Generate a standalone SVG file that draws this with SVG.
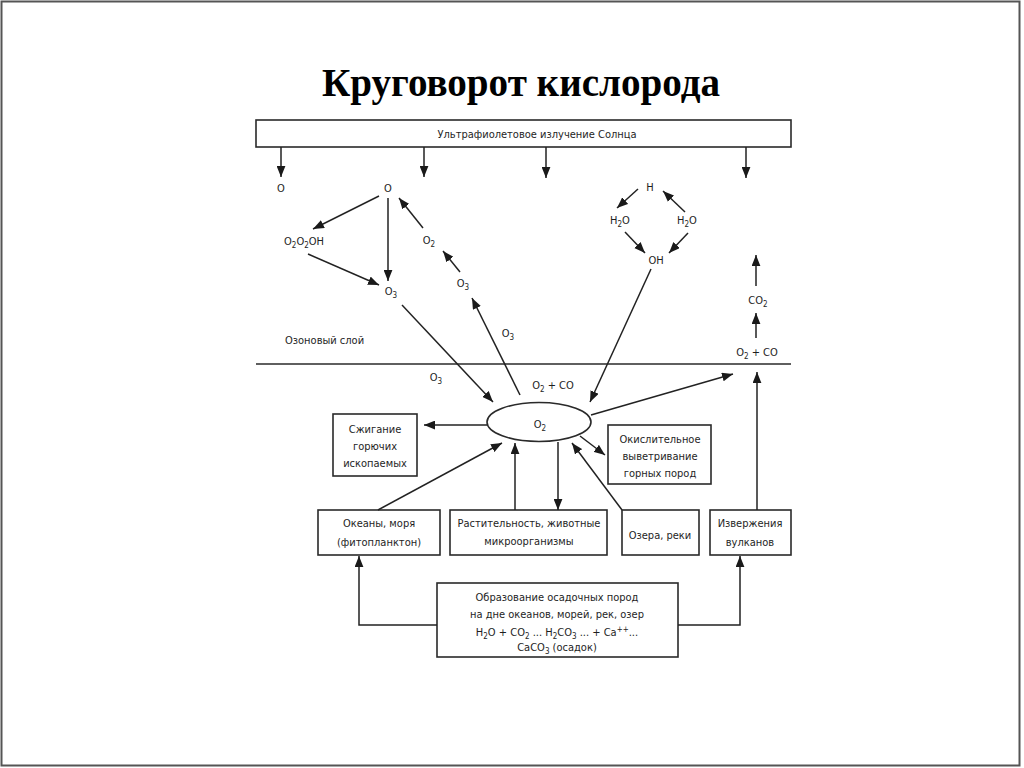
<svg xmlns="http://www.w3.org/2000/svg" width="1024" height="768" viewBox="0 0 1024 768">
<style>
.t{font-family:"Liberation Sans Narrow","DejaVu Sans Condensed","Liberation Sans",sans-serif;font-size:11px;fill:#1e1e1e;text-anchor:middle}
.l{text-anchor:start}
.box{fill:#fff;stroke:#2a2a2a;stroke-width:1.6}
.c{fill:none;stroke:#222;stroke-width:1.5}
.ar{marker-end:url(#ah)}
.s{font-size:8px}
</style>
<defs>
<marker id="ah" viewBox="0 0 10 8" refX="10" refY="4" markerWidth="11" markerHeight="9" markerUnits="userSpaceOnUse" orient="auto">
<path d="M0,0 L10,4 L0,8 z" fill="#1a1a1a"/>
</marker>
</defs>
<rect x="0" y="0" width="1024" height="768" fill="#fff"/>
<rect x="1.5" y="1.5" width="1018" height="764" fill="none" stroke="#555" stroke-width="2"/>
<text x="521" y="96" font-family="'Liberation Serif','Times New Roman',serif" font-weight="bold" font-size="40" text-anchor="middle" textLength="398" lengthAdjust="spacingAndGlyphs" fill="#000">Круговорот кислорода</text>

<g id="uv">
<rect class="box" x="256" y="120" width="535" height="27"/>
<text class="t" x="537" y="138">Ультрафиолетовое излучение Солнца</text>
</g>
<g id="layer-line"><line x1="256" y1="364" x2="791" y2="364" stroke="#2a2a2a" stroke-width="1.6"/></g>
<g id="ozone-label"><text class="t l" x="285" y="344">Озоновый слой</text></g>

<g id="o-left"><text class="t" x="281" y="192">O</text></g>
<g id="o-top"><text class="t" x="388" y="192">O</text></g>
<g id="o2o2oh"><text class="t" x="304" y="245">O<tspan class="s" dy="3">2</tspan><tspan dy="-3">O</tspan><tspan class="s" dy="3">2</tspan><tspan dy="-3">OH</tspan></text></g>
<g id="o3-a"><text class="t" x="391" y="295">O<tspan class="s" dy="3">3</tspan></text></g>
<g id="o2-a"><text class="t" x="429" y="244">O<tspan class="s" dy="3">2</tspan></text></g>
<g id="o3-b"><text class="t" x="463" y="287">O<tspan class="s" dy="3">3</tspan></text></g>
<g id="o3-c"><text class="t" x="508" y="337">O<tspan class="s" dy="3">3</tspan></text></g>
<g id="o3-d"><text class="t" x="436" y="381">O<tspan class="s" dy="3">3</tspan></text></g>
<g id="o2co-mid"><text class="t" x="553" y="389">O<tspan class="s" dy="3">2</tspan><tspan dy="-3"> + CO</tspan></text></g>
<g id="h"><text class="t" x="650" y="191">H</text></g>
<g id="h2o-l"><text class="t" x="620" y="224">H<tspan class="s" dy="3">2</tspan><tspan dy="-3">O</tspan></text></g>
<g id="h2o-r"><text class="t" x="687" y="224">H<tspan class="s" dy="3">2</tspan><tspan dy="-3">O</tspan></text></g>
<g id="oh"><text class="t" x="656" y="264">OH</text></g>
<g id="co2"><text class="t" x="758" y="304">CO<tspan class="s" dy="3">2</tspan></text></g>
<g id="o2co-right"><text class="t" x="757" y="356">O<tspan class="s" dy="3">2</tspan><tspan dy="-3"> + CO</tspan></text></g>

<g id="o2-ellipse">
<ellipse cx="539" cy="422" rx="52" ry="19.5" fill="#fff" stroke="#2a2a2a" stroke-width="1.6"/>
<text class="t" x="540" y="428">O<tspan class="s" dy="3">2</tspan></text>
</g>
<g id="burning">
<rect class="box" x="333" y="414" width="84" height="62"/>
<text class="t" x="375" y="433">Сжигание</text>
<text class="t" x="375" y="450">горючих</text>
<text class="t" x="375" y="467">ископаемых</text>
</g>
<g id="weathering">
<rect class="box" x="608" y="425" width="103" height="59"/>
<text class="t" x="660" y="443">Окислительное</text>
<text class="t" x="660" y="460">выветривание</text>
<text class="t" x="660" y="477">горных пород</text>
</g>
<g id="oceans">
<rect class="box" x="318" y="510" width="122" height="45"/>
<text class="t" x="379" y="527">Океаны, моря</text>
<text class="t" x="379" y="546">(фитопланктон)</text>
</g>
<g id="plants">
<rect class="box" x="450" y="510" width="157" height="45"/>
<text class="t" x="529" y="527">Растительность, животные</text>
<text class="t" x="529" y="545">микроорганизмы</text>
</g>
<g id="lakes">
<rect class="box" x="622" y="510" width="77" height="45"/>
<text class="t" x="660" y="539">Озера, реки</text>
</g>
<g id="volcano">
<rect class="box" x="710" y="510" width="81" height="45"/>
<text class="t" x="750" y="527">Извержения</text>
<text class="t" x="750" y="546">вулканов</text>
</g>
<g id="sediment">
<rect class="box" x="437" y="583" width="241" height="74"/>
<text class="t" x="557" y="601">Образование осадочных пород</text>
<text class="t" x="557" y="618">на дне океанов, морей, рек, озер</text>
<text class="t" x="557" y="636">H<tspan class="s" dy="3">2</tspan><tspan dy="-3">O + CO</tspan><tspan class="s" dy="3">2</tspan><tspan dy="-3"> ... H</tspan><tspan class="s" dy="3">2</tspan><tspan dy="-3">CO</tspan><tspan class="s" dy="3">3</tspan><tspan dy="-3"> ... + Ca</tspan><tspan class="s" dy="-4">++</tspan><tspan dy="4">...</tspan></text>
<text class="t" x="557" y="651">CaCO<tspan class="s" dy="3">3</tspan><tspan dy="-3"> (осадок)</tspan></text>
</g>

<g id="connectors">
<line class="c ar" x1="281" y1="147" x2="281" y2="177"/>
<line class="c ar" x1="424" y1="147" x2="424" y2="177"/>
<line class="c ar" x1="546" y1="147" x2="546" y2="178"/>
<line class="c ar" x1="746" y1="147" x2="746" y2="178"/>
<line class="c ar" x1="379" y1="196" x2="313" y2="229"/>
<line class="c ar" x1="308" y1="254" x2="379" y2="285"/>
<line class="c ar" x1="388" y1="198" x2="388" y2="281"/>
<line class="c ar" x1="423" y1="228" x2="399" y2="198"/>
<line class="c ar" x1="460" y1="272" x2="443" y2="251"/>
<line class="c ar" x1="520" y1="395" x2="472" y2="298"/>
<line class="c ar" x1="402" y1="305" x2="493" y2="402"/>
<line class="c ar" x1="651" y1="269" x2="590" y2="402"/>
<line class="c ar" x1="638" y1="189" x2="617" y2="208"/>
<line class="c ar" x1="685" y1="212" x2="663" y2="191"/>
<line class="c ar" x1="625" y1="232" x2="645" y2="253"/>
<line class="c ar" x1="688" y1="233" x2="669" y2="253"/>
<line class="c ar" x1="756" y1="338" x2="756" y2="313"/>
<line class="c ar" x1="756" y1="286" x2="756" y2="255"/>
<line class="c ar" x1="591" y1="415" x2="733" y2="374"/>
<line class="c ar" x1="757" y1="510" x2="757" y2="372"/>
<line class="c ar" x1="487" y1="425" x2="424" y2="425"/>
<line class="c ar" x1="580" y1="436" x2="605" y2="455"/>
<line class="c ar" x1="378" y1="510" x2="502" y2="443"/>
<line class="c ar" x1="515" y1="510" x2="515" y2="443"/>
<line class="c ar" x1="558" y1="442" x2="558" y2="510"/>
<line class="c ar" x1="622" y1="510" x2="572" y2="443"/>
<polyline class="c ar" points="437,625 359,625 359,556"/>
<polyline class="c ar" points="678,625 740,625 740,556"/>
</g>
</svg>
